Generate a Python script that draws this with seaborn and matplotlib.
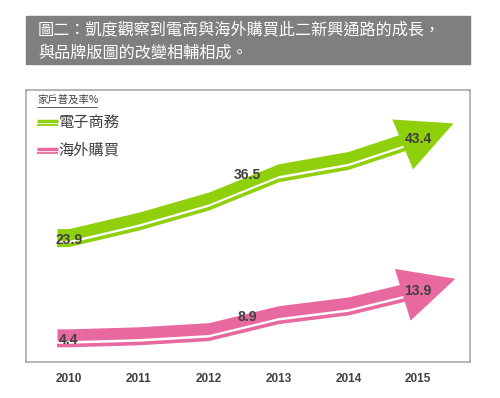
import numpy as np
import pandas as pd
import seaborn as sns
import matplotlib.pyplot as plt
from matplotlib.patches import Rectangle, Polygon

# chart values (household penetration, %)
years = [2010, 2011, 2012, 2013, 2014, 2015]
ecommerce = [23.9, 27.1, 31.0, 36.5, 38.9, 43.4]
overseas = [4.4, 4.8, 5.6, 8.9, 10.6, 13.9]
series_names = ['電子商務', '海外購買']
labelled_years = [2010, 2013, 2015]
label_x = [2010, 2012.55, 2015]

title_lines = ['圖二：凱度觀察到電商與海外購買此二新興通路的成長，',
               '與品牌版圖的改變相輔相成。']
unit_label = '家戶普及率%'

GREEN = '#8fcf0c'
PINK = '#e8699f'
TEXT = '#404040'

sns.set_theme(style='white')
plt.rcParams['font.family'] = ['Noto Sans CJK TC', 'DejaVu Sans']

df = pd.DataFrame({
    'year': years * 2,
    'rate': ecommerce + overseas,
    'channel': [series_names[0]] * len(years) + [series_names[1]] * len(years),
})

W, H = 500, 398
fig = plt.figure(figsize=(W / 100, H / 100), dpi=100)
fig.patch.set_facecolor('white')

# chart box in pixels: left 26, right 470, top 90, bottom 362
ax = fig.add_axes([26 / W, (H - 362) / H, 444 / W, 272 / H])
xlim = (2009.386, 2015.743)
ylim = (0.1, 53)
ax.set_xlim(*xlim)
ax.set_ylim(*ylim)
px_x = 444 / (xlim[1] - xlim[0])
px_y = 272 / (ylim[1] - ylim[0])

# title banner
fig.patches.append(Rectangle((26 / W, (H - 64) / H), 444 / W, 48 / H,
                             transform=fig.transFigure, color='#7f7f7f', zorder=0))
fig.text(38 / W, (H - 30) / H, title_lines[0], color='white', fontsize=11.6,
         va='center', ha='left')
fig.text(38 / W, (H - 53) / H, title_lines[1], color='white', fontsize=11.6,
         va='center', ha='left')

colors = {series_names[0]: GREEN, series_names[1]: PINK}

for name, color in colors.items():
    sub = df[df['channel'] == name]
    x = sub['year'].to_numpy(dtype=float)
    v = sub['rate'].to_numpy(dtype=float)
    # short lead-in before the first year, same level as the first value
    xb = np.r_[x[0] - 0.17, x]
    vb = np.r_[v[0], v]
    # thick band above the value, thin line below after a white gap
    ax.fill_between(xb, vb - 0.15, vb + 2.15, color=color, lw=0, zorder=2)
    sns.lineplot(x=xb, y=vb - 1.1, ax=ax, color=color, lw=2.6, legend=False,
                 sort=False, solid_capstyle='butt', zorder=2)

    # arrow head along the last segment
    dx = (x[-1] - x[-2]) * px_x
    dy = (v[-1] - v[-2]) * px_y * 1.25
    n = np.hypot(dx, dy)
    ux, uy = dx / n, dy / n
    bx = 2014.78
    by = v[-2] + (v[-1] - v[-2]) * (bx - x[-2]) / (x[-1] - x[-2])
    length, half = 55, 27
    tip = (bx + ux * length / px_x, by + uy * length / px_y)
    c1 = (bx - uy * half / px_x, by + ux * half / px_y)
    c2 = (bx + uy * half / px_x, by - ux * half / px_y)
    ax.add_patch(Polygon([c1, tip, c2], closed=True, color=color, lw=0, zorder=3))

    # value labels
    for yr, lx in zip(labelled_years, label_x):
        val = v[list(x).index(yr)]
        ax.text(lx, val, f'{val:.1f}', ha='center', va='center', fontsize=10,
                fontweight='bold', color=TEXT, family=['Liberation Sans', 'DejaVu Sans'],
                zorder=4)

# axes styling
ax.set_xticks(years)
ax.set_xticklabels([str(y) for y in years], fontsize=8.5, fontweight='bold',
                   color=TEXT, family=['Liberation Sans', 'DejaVu Sans'])
ax.tick_params(axis='x', length=0, pad=8)
ax.set_yticks([])
ax.set_xlabel('')
ax.set_ylabel('')
for s in ax.spines.values():
    s.set_color('#a9a9a9')
    s.set_linewidth(1.2)

# unit label with underline
def fx(px):
    return (px - 26) / 444

def fy(py):
    return (362 - py) / 272

ax.text(fx(37), fy(100), unit_label, fontsize=7.5, color=TEXT, va='center',
        ha='left', transform=ax.transAxes)
ax.plot([fx(37), fx(97)], [fy(106.5), fy(106.5)], color=TEXT, lw=0.6,
        transform=ax.transAxes)

# legend drawn by hand
for i, (name, color) in enumerate(colors.items()):
    yc = 121 + i * 28
    ax.plot([fx(37), fx(58)], [fy(yc), fy(yc)], color=color, lw=2.5,
            solid_capstyle='butt', transform=ax.transAxes)
    ax.plot([fx(37), fx(58)], [fy(yc + 3.5), fy(yc + 3.5)], color=color, lw=1.3,
            solid_capstyle='butt', transform=ax.transAxes)
    ax.text(fx(58.5), fy(yc + 1), name, fontsize=11, color=TEXT, va='center',
            ha='left', transform=ax.transAxes)

fig.savefig('out.png', dpi=100, facecolor='white')
